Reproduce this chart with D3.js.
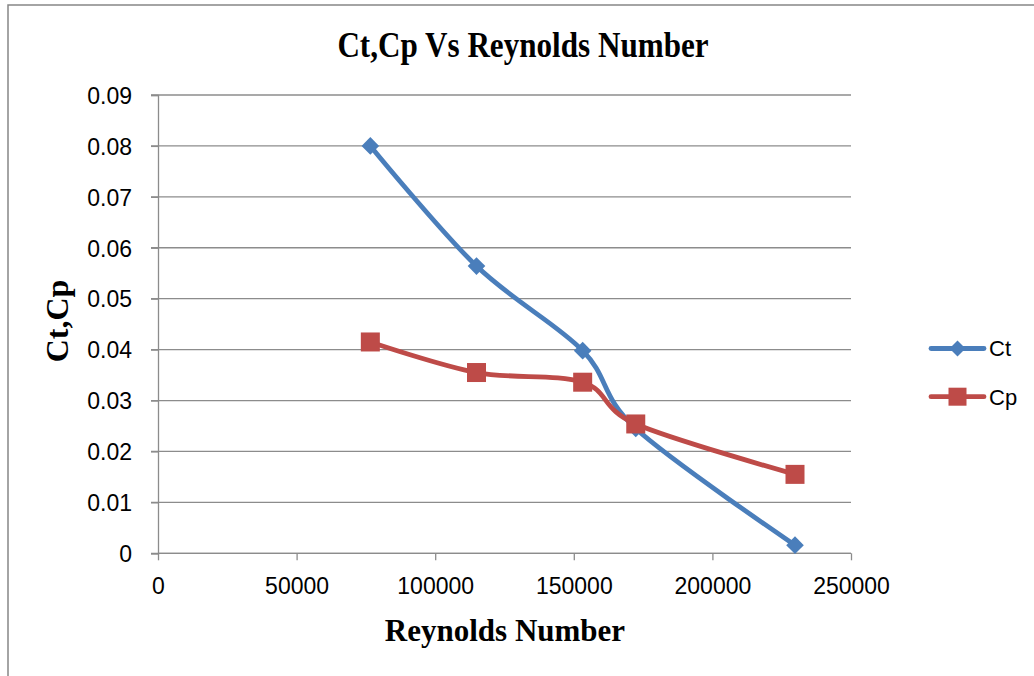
<!DOCTYPE html>
<html>
<head>
<meta charset="utf-8">
<script src="https://cdn.jsdelivr.net/npm/d3@7"></script>
<style>
  html, body { margin: 0; padding: 0; background: #ffffff; }
  svg { display: block; }
</style>
</head>
<body>
<svg id="chart" width="1034" height="676"></svg>
<script>
// Reynolds number for each test run
const reynolds = [76600, 114900, 153200, 172350, 229800];
// Thrust coefficient
const ctValues = [0.0800, 0.0564, 0.0398, 0.0245, 0.0016];
// Power coefficient
const cpValues = [0.0415, 0.0355, 0.0336, 0.0254, 0.0155];

const xTicks = [0, 50000, 100000, 150000, 200000, 250000];
const yTicks = [0, 0.01, 0.02, 0.03, 0.04, 0.05, 0.06, 0.07, 0.08, 0.09];

const seriesNames = ["Ct", "Cp"];
const seriesColors = ["#4a7ebb", "#be4b48"];

const svg = d3.select("#chart");

// Chart frame
svg.append("rect")
  .attr("x", 8).attr("y", 5)
  .attr("width", 1100).attr("height", 800)
  .attr("fill", "#ffffff")
  .attr("stroke", "#868686")
  .attr("stroke-width", 1.5);

const x = d3.scaleLinear().domain([0, 250000]).range([158, 851]);
const y = d3.scaleLinear().domain([0, 0.09]).range([553.3, 95]);

const tickFont = "'Liberation Sans', Arial, sans-serif";
const serif = "'Liberation Serif', 'Times New Roman', serif";

// Diamond marker path with the given half-diagonal
const diamond = r => `M0,${-r}L${r},0L0,${r}L${-r},0Z`;

// Horizontal gridlines (with the small outward tick on the left)
svg.append("g")
  .selectAll("line")
  .data(yTicks)
  .join("line")
  .attr("x1", 151).attr("x2", x.range()[1])
  .attr("y1", d => y(d)).attr("y2", d => y(d))
  .attr("stroke", "#8c8c8c")
  .attr("stroke-width", 1.3);

// Y axis
const yAxis = svg.append("g")
  .attr("transform", `translate(${x(0)},0)`)
  .call(d3.axisLeft(y).tickValues(yTicks).tickSize(7).tickPadding(19)
    .tickFormat(d => d === 0 ? "0" : d3.format(".2f")(d)));
yAxis.select(".domain").attr("stroke", "#8c8c8c").attr("stroke-width", 1.3);
yAxis.selectAll(".tick line").attr("stroke", "#8c8c8c").attr("stroke-width", 1.3);
yAxis.selectAll(".tick text")
  .attr("font-family", tickFont).attr("font-size", 23).attr("fill", "#000")
  .attr("dy", "0.36em");

// X axis
const xAxis = svg.append("g")
  .attr("transform", `translate(0,${y(0)})`)
  .call(d3.axisBottom(x).tickValues(xTicks).tickSize(7).tickPadding(17)
    .tickFormat(d3.format("d")));
xAxis.select(".domain").attr("stroke", "#8c8c8c").attr("stroke-width", 1.3)
  .attr("d", `M${x(0)},0H${x(250000)}`);
xAxis.selectAll(".tick line").attr("stroke", "#8c8c8c").attr("stroke-width", 1.3);
xAxis.selectAll(".tick text")
  .attr("font-family", tickFont).attr("font-size", 23).attr("fill", "#000");

// Smoothed series lines
const line = d3.line()
  .x(d => x(d[0]))
  .y(d => y(d[1]))
  .curve(d3.curveCardinal.tension(0));

const ctPoints = reynolds.map((r, i) => [r, ctValues[i]]);
const cpPoints = reynolds.map((r, i) => [r, cpValues[i]]);

svg.append("path")
  .datum(ctPoints)
  .attr("d", line)
  .attr("fill", "none")
  .attr("stroke", seriesColors[0])
  .attr("stroke-width", 4.8)
  .attr("stroke-linecap", "round")
  .attr("stroke-linejoin", "round");

svg.append("g")
  .selectAll("path")
  .data(ctPoints)
  .join("path")
  .attr("d", diamond(8.8))
  .attr("transform", d => `translate(${x(d[0])},${y(d[1])})`)
  .attr("fill", seriesColors[0]);

svg.append("path")
  .datum(cpPoints)
  .attr("d", line)
  .attr("fill", "none")
  .attr("stroke", seriesColors[1])
  .attr("stroke-width", 4.8)
  .attr("stroke-linecap", "round")
  .attr("stroke-linejoin", "round");

svg.append("g")
  .selectAll("rect")
  .data(cpPoints)
  .join("rect")
  .attr("x", d => x(d[0]) - 9.5)
  .attr("y", d => y(d[1]) - 9.5)
  .attr("width", 19).attr("height", 19)
  .attr("fill", seriesColors[1]);

// Legend
const legend = svg.append("g");
const legendY = [348.5, 396.7];
seriesNames.forEach((name, i) => {
  const g = legend.append("g").attr("transform", `translate(0,${legendY[i]})`);
  g.append("line")
    .attr("x1", 931).attr("x2", 984)
    .attr("stroke", seriesColors[i])
    .attr("stroke-width", 4.8)
    .attr("stroke-linecap", "round");
  if (i === 0) {
    g.append("path")
      .attr("d", diamond(8))
      .attr("transform", "translate(957.5,0)")
      .attr("fill", seriesColors[i]);
  } else {
    g.append("rect")
      .attr("x", 948.5).attr("y", -9)
      .attr("width", 18).attr("height", 18)
      .attr("fill", seriesColors[i]);
  }
  g.append("text")
    .attr("x", 989).attr("y", 0).attr("dy", "0.36em")
    .attr("font-family", tickFont).attr("font-size", 22)
    .attr("fill", "#000")
    .text(name);
});

// Title (narrowed bold serif)
svg.append("text")
  .attr("transform", "translate(523,57) scale(0.865,1)")
  .attr("text-anchor", "middle")
  .attr("font-family", serif).attr("font-weight", "bold")
  .attr("font-size", 36)
  .attr("fill", "#000")
  .text("Ct,Cp Vs Reynolds Number");

// Axis titles
svg.append("text")
  .attr("x", 505).attr("y", 641)
  .attr("text-anchor", "middle")
  .attr("font-family", serif).attr("font-weight", "bold")
  .attr("font-size", 31)
  .attr("fill", "#000")
  .text("Reynolds Number");

svg.append("text")
  .attr("transform", "translate(68,321) rotate(-90)")
  .attr("text-anchor", "middle")
  .attr("font-family", serif).attr("font-weight", "bold")
  .attr("font-size", 32)
  .attr("fill", "#000")
  .text("Ct,Cp");
</script>
</body>
</html>
